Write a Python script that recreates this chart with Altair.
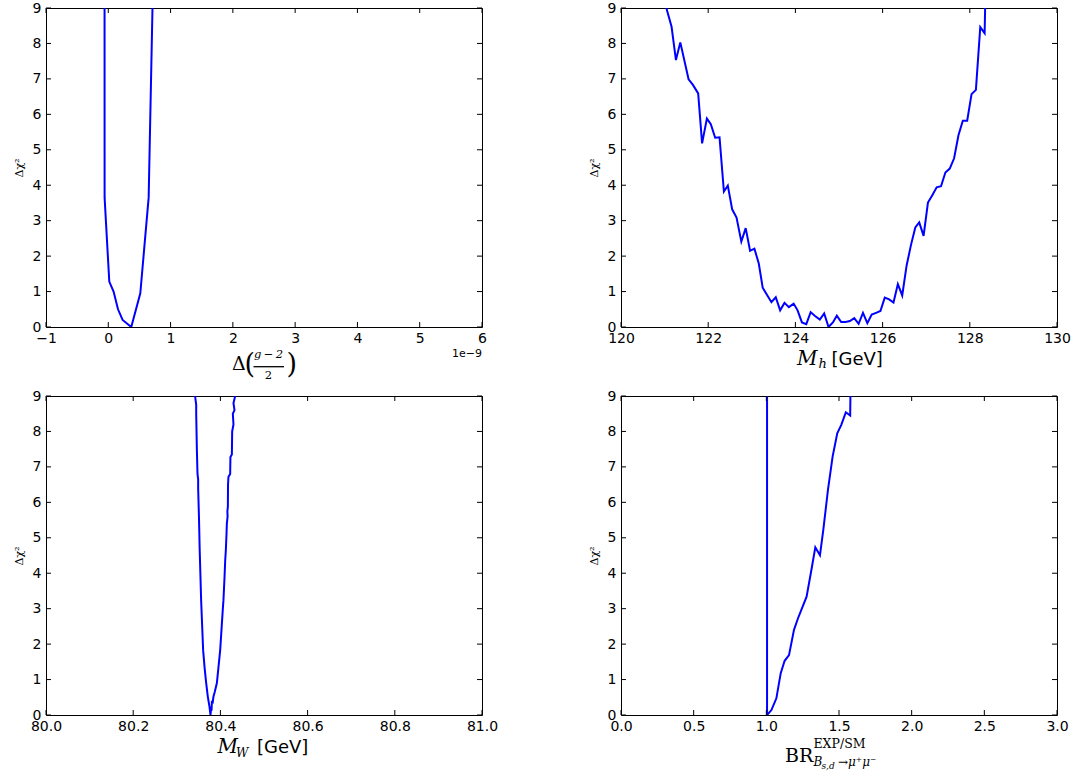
import altair as alt
import pandas as pd

W, H = 436, 319
BLUE = "#0000ff"
SANS = "DejaVu Sans"
SERIF = "DejaVu Serif"

# ---- data ----
g2_x = [-0.06, -0.059, 0.016, 0.085, 0.156, 0.23, 0.369, 0.514, 0.648, 0.712]
g2_y = [9.5, 3.65, 1.28, 1.0, 0.5, 0.2, 0.0, 0.95, 3.65, 9.2]

mh_x = [120.97, 121.04, 121.16, 121.26, 121.36, 121.55, 121.65, 121.77, 121.86, 121.97,
        122.06, 122.16, 122.26, 122.36, 122.45, 122.55, 122.65, 122.76, 122.86, 122.96,
        123.06, 123.16, 123.25, 123.35, 123.45, 123.55, 123.65, 123.75, 123.85, 123.96,
        124.05, 124.15, 124.25, 124.35, 124.45, 124.56, 124.66, 124.76, 124.86, 124.95,
        125.05, 125.15, 125.25, 125.35, 125.45, 125.55, 125.65, 125.75, 125.85, 125.95,
        126.05, 126.15, 126.25, 126.35, 126.45, 126.55, 126.65, 126.75, 126.84, 126.94,
        127.04, 127.14, 127.24, 127.34, 127.44, 127.54, 127.64, 127.74, 127.84, 127.94,
        128.04, 128.14, 128.24, 128.34, 128.36]
mh_y = [9.3, 9.0, 8.47, 7.53, 8.03, 6.99, 6.83, 6.59, 5.18, 5.88,
        5.72, 5.34, 5.35, 3.82, 3.99, 3.32, 3.09, 2.41, 2.79, 2.15,
        2.21, 1.79, 1.11, 0.90, 0.70, 0.84, 0.47, 0.68, 0.56, 0.66,
        0.47, 0.13, 0.08, 0.42, 0.31, 0.21, 0.38, 0.0, 0.13, 0.32,
        0.14, 0.14, 0.17, 0.25, 0.09, 0.40, 0.11, 0.35, 0.40, 0.45,
        0.83, 0.78, 0.69, 1.21, 0.89, 1.73, 2.31, 2.81, 2.95, 2.57,
        3.51, 3.72, 3.94, 3.97, 4.36, 4.47, 4.76, 5.41, 5.82, 5.82,
        6.57, 6.69, 8.46, 8.29, 9.5]

mw_x = [80.3422, 80.3424, 80.3445, 80.3445, 80.3460, 80.3475, 80.3490, 80.3490,
        80.3510, 80.3525, 80.3558, 80.3604, 80.3640, 80.3674, 80.3711, 80.3750,
        80.3773, 80.3789, 80.3797, 80.3805, 80.3820, 80.3841, 80.3870, 80.3919,
        80.3960, 80.3995, 80.4030, 80.4056, 80.4070, 80.4095, 80.4110, 80.4125,
        80.4140, 80.4148, 80.4165, 80.4160, 80.4171, 80.4175, 80.4185, 80.4224,
        80.4230, 80.4263, 80.4270, 80.4300, 80.4285, 80.4323, 80.4300, 80.4340,
        80.4330]
mw_y = [9.4, 8.95, 8.75, 8.5, 7.5, 6.8, 6.65, 6.4,
        5.5, 4.66, 3.24, 1.83, 1.3, 0.9, 0.52, 0.23,
        0.0, 0.23, 0.12, 0.40, 0.32, 0.52, 0.65, 0.9,
        1.4, 1.83, 2.5, 3.0, 3.24, 3.9, 4.36, 4.66,
        5.1, 5.4, 5.6, 5.75, 5.87, 6.5, 6.72, 6.8,
        7.28, 7.35, 8.0, 8.2, 8.5, 8.6, 8.8, 9.0,
        9.4]

br_x = [1.005, 1.005, 1.035, 1.069, 1.099, 1.126, 1.156, 1.19, 1.218, 1.245, 1.277,
        1.31, 1.337, 1.369, 1.392, 1.424, 1.456, 1.488, 1.515, 1.547, 1.577, 1.58]
br_y = [9.5, 0.0, 0.14, 0.47, 1.18, 1.53, 1.69, 2.40, 2.73, 3.01, 3.34,
        4.09, 4.73, 4.51, 5.22, 6.35, 7.29, 7.95, 8.18, 8.54, 8.45, 9.5]

y_ticks = [0, 1, 2, 3, 4, 5, 6, 7, 8, 9]
g2_ticks = [-1, 0, 1, 2, 3, 4, 5, 6]
mh_ticks = [120, 122, 124, 126, 128, 130]
mw_ticks = [80.0, 80.2, 80.4, 80.6, 80.8, 81.0]
br_ticks = [0.0, 0.5, 1.0, 1.5, 2.0, 2.5, 3.0]
Y_DOMAIN = [0, 9]


def text(t, x, y, size, font=SERIF, style="normal", align="left"):
    return alt.Chart(pd.DataFrame({"t": [t]})).mark_text(
        align=align, baseline="alphabetic", font=font, fontSize=size,
        fontStyle=style, color="black").encode(
        x=alt.value(x), y=alt.value(y), text="t:N")


def panel(xs, ys, dom, xticks, fmt, extras):
    xscale = alt.Scale(domain=dom, nice=False, zero=False)
    yscale = alt.Scale(domain=Y_DOMAIN, nice=False, zero=False)
    xaxis = alt.Axis(
        values=xticks, format=fmt, title=None, grid=False, domain=False,
        ticks=False, tickSize=0, labelPadding=4, labelFont=SANS,
        labelFontSize=14, labelColor="black", labelFlush=False,
        labelOverlap=False, labelBound=False)
    yaxis = alt.Axis(
        values=y_ticks, format="d", title="Δχ²", titleFont=SERIF,
        titleFontSize=11, titleFontWeight="normal", titleColor="black",
        titleX=-24, titleY=H / 2, titleAngle=270, titleAlign="center",
        titleBaseline="alphabetic", grid=False, domain=False, ticks=False,
        tickSize=0, labelPadding=5, labelFont=SANS, labelFontSize=14,
        labelColor="black", labelFlush=False, labelOverlap=False,
        labelBound=False, labelSeparation=0)
    df = pd.DataFrame({"x": xs, "y": ys, "i": list(range(len(xs)))})
    line = alt.Chart(df).mark_line(color=BLUE, strokeWidth=2, clip=True).encode(
        x=alt.X("x:Q", scale=xscale, axis=xaxis),
        y=alt.Y("y:Q", scale=yscale, axis=yaxis),
        order="i:Q")
    xt = pd.DataFrame({"x": xticks})
    yt = pd.DataFrame({"y": y_ticks})
    rule = dict(color="black", strokeWidth=1)
    tb = alt.Chart(xt).mark_rule(**rule).encode(
        x=alt.X("x:Q", scale=xscale, axis=xaxis), y=alt.value(H), y2=alt.value(H - 5))
    tt = alt.Chart(xt).mark_rule(**rule).encode(
        x=alt.X("x:Q", scale=xscale, axis=xaxis), y=alt.value(0), y2=alt.value(5))
    tl = alt.Chart(yt).mark_rule(**rule).encode(
        y=alt.Y("y:Q", scale=yscale, axis=yaxis), x=alt.value(0), x2=alt.value(5))
    tr = alt.Chart(yt).mark_rule(**rule).encode(
        y=alt.Y("y:Q", scale=yscale, axis=yaxis), x=alt.value(W), x2=alt.value(W - 5))
    return alt.layer(line, tb, tt, tl, tr, *extras).properties(width=W, height=H)


p1 = panel(g2_x, g2_y, [-1, 6], g2_ticks, "d", [
    text("Δ", 186, 362, 19),
    text("(", 198.5, 365, 27),
    text("g\u2009−\u20092", 222.5, 350, 11.5, style="italic", align="center"),
    alt.Chart(pd.DataFrame({"a": [0]})).mark_rule(color="black", strokeWidth=1.3).encode(
        x=alt.value(207.5), x2=alt.value(238), y=alt.value(358.7)),
    text("2", 222.5, 371, 11.5, align="center"),
    text(")", 240.5, 365, 27),
    text("1e−9", 436, 348.7, 11, font=SANS, align="right"),
])
p2 = panel(mh_x, mh_y, [120, 130], mh_ticks, "d", [
    text("M", 176, 357, 20, style="italic"),
    text("h", 197.5, 360, 13, style="italic"),
    text("[GeV]", 210.5, 357, 18, font=SANS),
])
p3 = panel(mw_x, mw_y, [80, 81], mw_ticks, ".1f", [
    text("M", 171.5, 357, 20, style="italic"),
    text("W", 190, 360.5, 12, style="italic"),
    text("[GeV]", 211, 357, 18, font=SANS),
])
p4 = panel(br_x, br_y, [0, 3], br_ticks, ".1f", [
    text("BR", 164, 365.5, 19),
    text("EXP/SM", 192.5, 352, 12.5),
    text("B", 192.5, 370, 12, style="italic"),
    text("s,d", 200.5, 372.5, 9, style="italic"),
    text("→μ⁺μ⁻", 217, 370, 12, style="italic"),
])

chart = alt.concat(p1, p2, p3, p4, columns=2,
                   spacing={"row": 69, "column": 139}, bounds="flush").properties(
    padding={"left": 12, "top": 0, "right": 5, "bottom": 5},
    background="white",
).configure_view(stroke="black", strokeWidth=1)

chart.save("out.html", embed_options={"renderer": "svg", "actions": False})
